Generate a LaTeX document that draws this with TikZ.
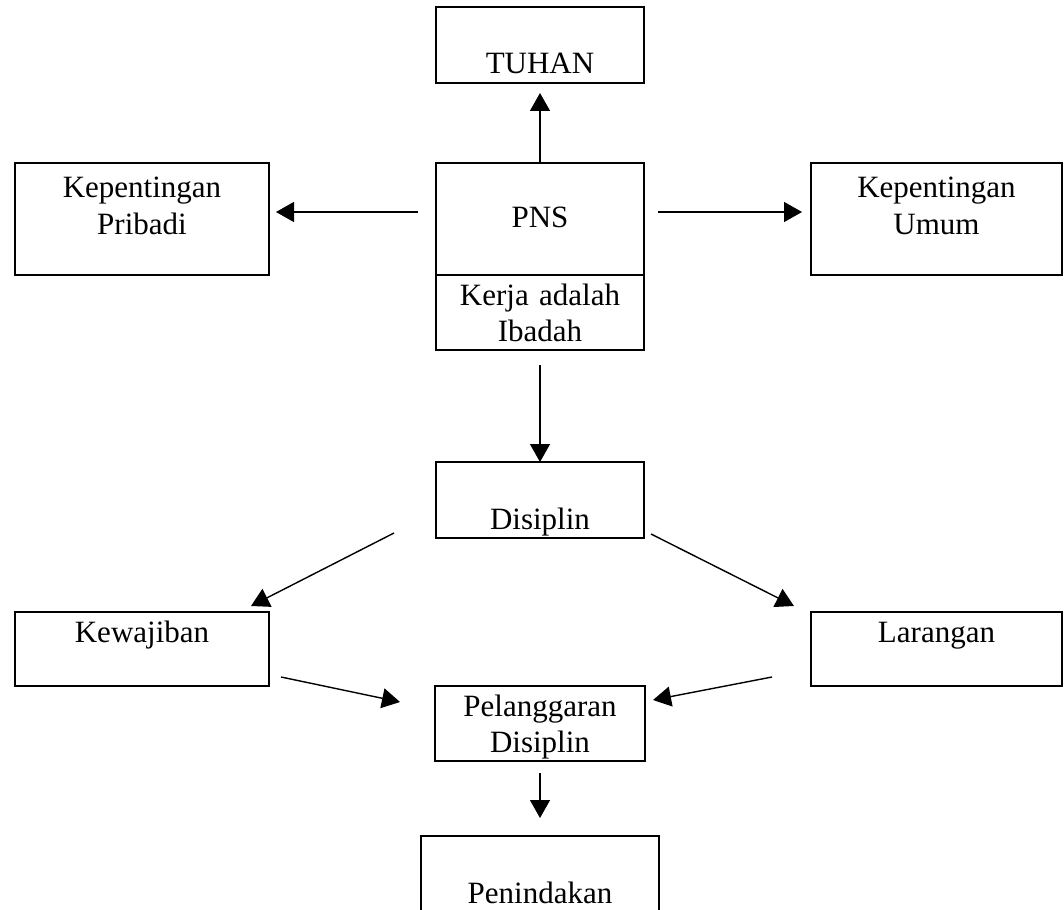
\documentclass[tikz,border=0pt]{standalone}
\usepackage{fontspec}
\setmainfont{Liberation Serif}
\usetikzlibrary{
  arrows.meta,
  positioning
}

\begin{document}
\begin{tikzpicture}[
  x=1pt, y=1pt,
  box/.style={draw, line width=1.8pt, inner sep=0pt, outer sep=0pt, align=center,
    font=\fontsize{31pt}{36pt}\selectfont},
  midbox/.style={box, text width=208pt},
  sidebox/.style={box, text width=254pt},
  lowbox/.style={text height=67pt, text depth=9pt},
  topbox/.style={text height=30pt, text depth=45pt},
  arrow/.style={-{Triangle[length=18pt, width=20pt]}, line width=1.4pt}
]
  \useasboundingbox (0,0) rectangle (1064,-909);

  % --- Top row ---
  \node[midbox, text height=65pt, text depth=47pt] (pns) at (540,-219) {PNS};
  \node[midbox, topbox, below=0pt of pns] (kerja) {Kerja adalah\\Ibadah};
  \node[midbox, lowbox, above=80pt of pns] (tuhan) {TUHAN};
  \node[sidebox, text height=35pt, text depth=77pt, left=167pt of pns] (pribadi)
    {Kepentingan\\Pribadi};
  \node[box, text width=251pt, text height=35pt, text depth=77pt, right=167pt of pns] (umum)
    {Kepentingan\\Umum};

  % --- Middle row ---
  \node[midbox, lowbox, below=112pt of kerja] (disiplin) {Disiplin};
  \node[sidebox, topbox, text depth=44pt, below=337pt of pribadi] (kewajiban) {Kewajiban};
  \node[box, text width=251pt, topbox, text depth=44pt, below=337pt of umum] (larangan)
    {Larangan};

  % --- Bottom row ---
  \node[box, text width=210pt, topbox, below=148pt of disiplin] (pelanggaran)
    {Pelanggaran\\Disiplin};
  \node[box, text width=238pt, lowbox, below=75pt of pelanggaran] (penindakan) {Penindakan};

  % --- Arrows: top row ---
  \draw[arrow, shorten >=10pt] (pns.north) -- (tuhan.south);
  \draw[arrow, shorten <=18pt, shorten >=7pt] ([yshift=7pt]pns.west) -- ([yshift=7pt]pribadi.east);
  \draw[arrow, shorten <=14pt, shorten >=9pt] ([yshift=7pt]pns.east) -- ([yshift=7pt]umum.west);
  \draw[arrow, shorten <=15pt] (kerja.south) -- (disiplin.north);

  % --- Arrows: middle row ---
  \draw[arrow] ([xshift=-42pt, yshift=5pt]disiplin.south west)
    -- ([xshift=-18pt, yshift=6pt]kewajiban.north east);
  \draw[arrow] ([xshift=7pt, yshift=4pt]disiplin.south east)
    -- ([xshift=-17pt, yshift=6pt]larangan.north west);

  % --- Arrows: bottom row ---
  \draw[arrow] ([xshift=12pt, yshift=9pt]kewajiban.south east)
    -- ([xshift=-35pt, yshift=-16pt]pelanggaran.north west);
  \draw[arrow] ([xshift=-39pt, yshift=9pt]larangan.south west)
    -- ([xshift=8pt, yshift=-14pt]pelanggaran.north east);
  \draw[arrow, shorten <=12pt, shorten >=18pt] (pelanggaran.south) -- (penindakan.north);
\end{tikzpicture}
\end{document}
